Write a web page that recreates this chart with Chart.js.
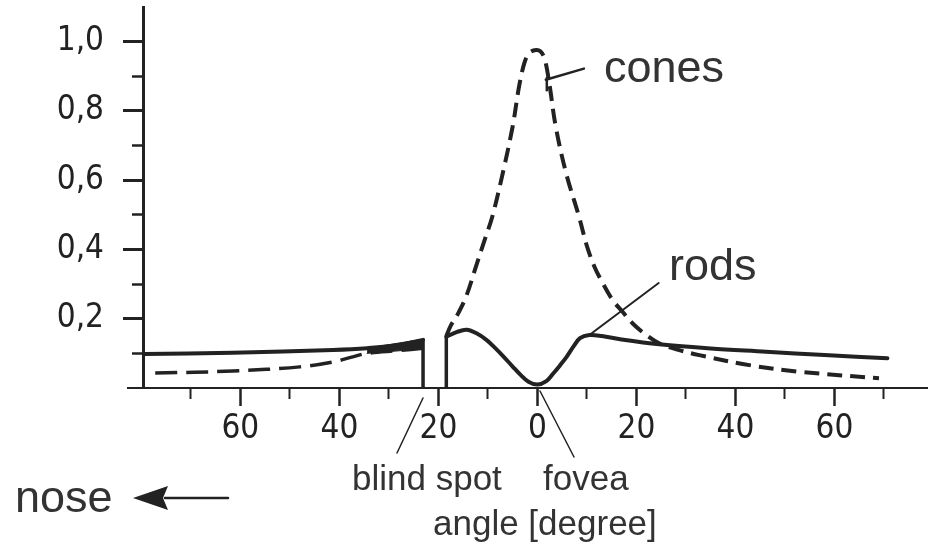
<!DOCTYPE html>
<html>
<head>
<meta charset="utf-8">
<script src="https://cdn.jsdelivr.net/npm/chart.js@4.4.1/dist/chart.umd.min.js"></script>
<style>
  html, body { margin: 0; padding: 0; background: #fff; }
  #wrap { position: relative; width: 932px; height: 545px; }
</style>
</head>
<body>
<div id="wrap"><canvas id="c"></canvas></div>
<script>
// ---------- data (angle in degrees, relative density) ----------
const xMajorTicks = [-60, -40, -20, 0, 20, 40, 60];
const xMinorTicks = [-70, -50, -30, -10, 10, 30, 50, 70];
const yMajorTicks = [0.2, 0.4, 0.6, 0.8, 1.0];
const yMinorTicks = [0.1, 0.3, 0.5, 0.7, 0.9];

// rods, nasal side of the blind spot
const rodsNasalAngle = [-79.5, -61.5, -41.3, -34.4, -28, -23.1];
const rodsNasalValue = [0.098, 0.102, 0.110, 0.115, 0.124, 0.139];
// rods, temporal side of the blind spot
const rodsTemporalAngle = [-18.4, -16.2, -14.3, -12.3, -10.3, -8.5, -6.8, -5.0, -3.4, -1.8, 0, 1.8, 3.2, 4.6, 5.9, 7.3, 8.6, 10.5, 13, 17, 24.6, 35, 46.2, 58, 70.7];
const rodsTemporalValue = [0.148, 0.162, 0.168, 0.158, 0.139, 0.115, 0.090, 0.062, 0.038, 0.018, 0.010, 0.020, 0.042, 0.066, 0.090, 0.120, 0.144, 0.153, 0.150, 0.140, 0.126, 0.114, 0.105, 0.095, 0.086];
// cones, nasal side
const conesNasalAngle = [-77.2, -61.5, -48, -41.3, -37.3, -34.4, -28, -23.1];
const conesNasalValue = [0.043, 0.049, 0.061, 0.075, 0.090, 0.100, 0.108, 0.115];
// cones, temporal side (through the fovea)
const conesTemporalAngle = [-18.4, -17.5, -16.2, -14.4, -12.4, -10.6, -9.1, -7.0, -5.0, -3.7, -2.7, -1.8, -0.6, 0.6, 1.5, 2.4, 3.7, 5.8, 8.4, 10.0, 11.5, 13.3, 15.2, 17.2, 19.2, 21.8, 24.6, 28.5, 32.7, 42.8, 52.9, 69.0];
const conesTemporalValue = [0.150, 0.180, 0.210, 0.264, 0.351, 0.430, 0.495, 0.620, 0.755, 0.871, 0.935, 0.965, 0.975, 0.972, 0.948, 0.880, 0.755, 0.620, 0.495, 0.410, 0.351, 0.300, 0.254, 0.220, 0.187, 0.155, 0.129, 0.110, 0.095, 0.066, 0.047, 0.028];
// blind spot edges (both receptor curves drop to zero)
const blindNasalEdgeAngle = [-23.1, -23.1];
const blindNasalEdgeValue = [0, 0.139];
const blindTemporalEdgeAngle = [-18.4, -18.4];
const blindTemporalEdgeValue = [0, 0.150];
// dark overlap wedge just before the blind spot
const wedgeAngle = [-34.4, -23.1, -23.1, -34.4];
const wedgeValue = [0.115, 0.141, 0.113, 0.100];

const pts = (xs, ys) => xs.map((v, i) => ({ x: v, y: ys[i] }));
const INK = '#222';

function solid(data, extra) {
  return Object.assign({ data, borderColor: INK, borderWidth: 4, pointRadius: 0, tension: 0.35, fill: false, borderCapStyle: 'round', borderJoinStyle: 'round' }, extra || {});
}

const annot = {
  id: 'annot',
  afterDraw(chart) {
    const { ctx } = chart;
    const xs = chart.scales.x, ys = chart.scales.y;
    const px = v => xs.getPixelForValue(v), py = v => ys.getPixelForValue(v);
    const seg = (x1, y1, x2, y2, w) => { ctx.lineWidth = w; ctx.beginPath(); ctx.moveTo(x1, y1); ctx.lineTo(x2, y2); ctx.stroke(); };
    ctx.save();
    ctx.strokeStyle = INK;
    ctx.lineCap = 'round';
    // cones leader
    seg(px(1.7), py(0.89), px(9.4), py(0.922), 2.5);
    seg(px(1.9), py(0.895), px(1.9), py(0.86), 2.5);
    // rods leader
    seg(px(10.5), py(0.153), px(24.5), py(0.303), 2);
    // blind spot pointer
    seg(423, 398, 397, 453, 1.5);
    // fovea pointer
    seg(540, 391, 574, 457, 1.5);
    // nose arrow
    seg(165, 498, 228, 498, 2.5);
    ctx.fillStyle = INK;
    ctx.beginPath(); ctx.moveTo(133, 498); ctx.lineTo(168, 486); ctx.lineTo(163, 498); ctx.lineTo(168, 510); ctx.closePath(); ctx.fill();

    ctx.fillStyle = '#333';
    ctx.textBaseline = 'alphabetic';
    ctx.textAlign = 'left';
    ctx.font = '45px "Liberation Sans", Arial, sans-serif';
    ctx.fillText('cones', 604, 82);
    ctx.fillText('rods', 669, 280);
    ctx.fillText('nose', 15, 512);
    ctx.font = '35px "Liberation Sans", Arial, sans-serif';
    ctx.fillText('blind spot', 352, 490);
    ctx.fillText('fovea', 543, 490);
    ctx.fillText('angle [degree]', 433, 535);
    ctx.restore();
  }
};

const tickFont = { family: "'DejaVu Sans Condensed', 'DejaVu Sans', sans-serif", size: 33 };
const X_MIN = -82.7, X_MAX = 78.7, Y_MIN = 0, Y_MAX = 1.1, Y_AXIS_AT = -79.5;
const noPad = s => { s.paddingTop = 0; s.paddingBottom = 0; s.paddingLeft = 0; s.paddingRight = 0; };

new Chart(document.getElementById('c'), {
  type: 'line',
  data: {
    datasets: [
      solid(pts(rodsNasalAngle, rodsNasalValue)),
      solid(pts(rodsTemporalAngle, rodsTemporalValue)),
      solid(pts(blindNasalEdgeAngle, blindNasalEdgeValue), { tension: 0, borderWidth: 3.5 }),
      solid(pts(blindTemporalEdgeAngle, blindTemporalEdgeValue), { tension: 0, borderWidth: 3.5 }),
      solid(pts(wedgeAngle, wedgeValue), { tension: 0, borderWidth: 1, fill: 'shape', backgroundColor: INK }),
      solid(pts(conesNasalAngle, conesNasalValue), { borderDash: [22, 9], borderWidth: 3.5, borderCapStyle: 'butt' }),
      solid(pts(conesTemporalAngle, conesTemporalValue), { borderDash: [15, 8], borderWidth: 4, borderCapStyle: 'butt' })
    ]
  },
  options: {
    responsive: true,
    maintainAspectRatio: false,
    animation: false,
    events: [],
    layout: { padding: { left: 0, right: 5, top: 7, bottom: 0 } },
    plugins: { legend: { display: false }, tooltip: { enabled: false } },
    scales: {
      x: {
        type: 'linear', position: 'bottom', min: X_MIN, max: X_MAX,
        afterBuildTicks: s => { s.ticks = xMajorTicks.map(v => ({ value: v })); },
        afterFit: s => { s.height = 157; noPad(s); },
        grid: { display: true, drawOnChartArea: false, drawTicks: true, tickLength: 18, tickWidth: 2.5, tickColor: INK },
        border: { display: true, color: INK, width: 2 },
        ticks: { color: INK, font: tickFont, padding: 4, maxRotation: 0, autoSkip: false, callback: v => String(Math.abs(v)) }
      },
      xm: {
        type: 'linear', position: { y: 0 }, min: X_MIN, max: X_MAX,
        afterBuildTicks: s => { s.ticks = xMinorTicks.map(v => ({ value: v })); },
        afterFit: noPad,
        grid: { display: true, drawOnChartArea: false, drawTicks: true, tickLength: 11, tickWidth: 2, tickColor: INK },
        border: { display: false },
        ticks: { display: false }
      },
      yl: {
        type: 'linear', position: 'left', min: Y_MIN, max: Y_MAX,
        afterBuildTicks: s => { s.ticks = yMajorTicks.map(v => ({ value: v })); },
        afterFit: s => { s.width = 128; noPad(s); },
        grid: { display: false, drawTicks: false },
        border: { display: false },
        ticks: { color: INK, font: tickFont, padding: 24, callback: v => v.toFixed(1).replace('.', ',') }
      },
      y: {
        type: 'linear', position: { x: Y_AXIS_AT }, min: Y_MIN, max: Y_MAX,
        afterBuildTicks: s => { s.ticks = yMajorTicks.map(v => ({ value: v })); },
        afterFit: noPad,
        grid: { display: true, drawOnChartArea: false, drawTicks: true, tickLength: 19, tickWidth: 3, tickColor: INK },
        border: { display: true, color: INK, width: 3 },
        ticks: { display: false }
      },
      ym: {
        type: 'linear', position: { x: Y_AXIS_AT }, min: Y_MIN, max: Y_MAX,
        afterBuildTicks: s => { s.ticks = yMinorTicks.map(v => ({ value: v })); },
        afterFit: noPad,
        grid: { display: true, drawOnChartArea: false, drawTicks: true, tickLength: 12, tickWidth: 2.5, tickColor: INK },
        border: { display: false },
        ticks: { display: false }
      }
    }
  },
  plugins: [annot]
});
</script>
</body>
</html>
